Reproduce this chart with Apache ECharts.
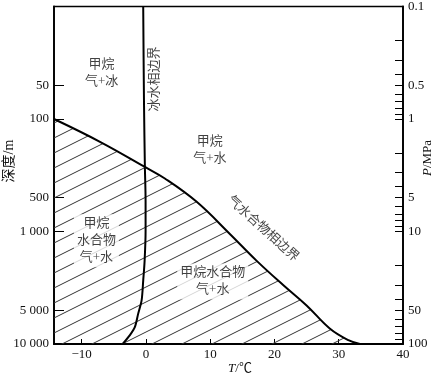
<!DOCTYPE html>
<html><head><meta charset="utf-8">
<script src="https://cdn.jsdelivr.net/npm/echarts@6/dist/echarts.min.js"></script>
<style>html,body{margin:0;padding:0;background:#fff}#c{width:439px;height:376px}</style>
</head><body><div id="c"></div>
<script>
// ---- data ----
const xTicks = [-10, 0, 10, 20, 30, 40];
const depthTicks = [50, 100, 500, 1000, 5000, 10000];
const pressureLabels = [0.1, 0.5, 1, 5, 10, 50, 100];
const pressureTicks = [0.1, 0.2, 0.3, 0.4, 0.5, 0.6, 0.7, 0.8, 0.9, 1, 2, 3, 4, 5, 6, 7, 8, 9, 10, 20, 30, 40, 50, 60, 70, 80, 90, 100];

// hydrate phase boundary (T in °C, depth in m)
const hydrateT = [-14.3, -7.0, -0.3, 2.95, 7.9, 13.1, 17.2, 21.35, 25.0, 28.6, 31.5, 33.3];
const hydrateDepth = [100, 161, 264, 338, 545, 1057, 1815, 2990, 4540, 7278, 9247, 10000];

// ice / water phase boundary
const iceT = [-0.42, -0.3, -0.16, -0.05, -0.05, -0.2, -0.42, -0.67, -1.2, -1.71, -2.49, -3.62];
const iceDepth = [10, 70, 264, 537, 989, 1815, 2729, 4098, 5370, 7047, 8337, 10000];

// annotations
const annoText = ['甲烷\n气+冰', '冰水相边界', '甲烷\n气+水', '气水合物相边界', '甲烷\n水合物\n气+水', '甲烷水合物\n气+水'];
const annoT = [-6.9, 1.4, 9.95, 18.2, -7.7, 10.4];
const annoDepth = [39, 44, 187, 948, 1211, 2786];
const annoRotate = [0, 90, 0, -42, 0, 0];
const annoBoxed = [false, false, false, false, true, true];

// ---- chart ----
const FONT = "'Liberation Serif','Noto Sans CJK SC',serif";
function hatch() {
  const c = document.createElement('canvas');
  c.width = 30; c.height = 15;
  const g = c.getContext('2d');
  g.strokeStyle = '#333'; g.lineWidth = 1;
  for (const dy of [-15, 0, 15]) {
    g.beginPath(); g.moveTo(0, 15 + dy); g.lineTo(30, dy); g.stroke();
  }
  return c;
}
const thousands = v => String(v).replace(/\B(?=(\d{3})+(?!\d))/g, ' ');
const chart = echarts.init(document.getElementById('c'), null, {renderer: 'canvas'});
chart.setOption({
  animation: false,
  backgroundColor: '#fff',
  grid: {left: 54, right: 36, top: 4, bottom: 32, show: true, borderColor: '#000', borderWidth: 1.5, backgroundColor: 'transparent'},
  xAxis: {
    type: 'value', min: -14.3, max: 40,
    axisLine: {show: true, onZero: false, lineStyle: {color: '#000', width: 1.8}},
    axisTick: {show: true, inside: true, length: 5, customValues: xTicks, lineStyle: {color: '#000'}},
    axisLabel: {customValues: xTicks, color: '#111', fontFamily: FONT, fontSize: 13, margin: 4,
      formatter: v => v < 0 ? '\u2212' + (-v) : String(v)},
    splitLine: {show: false}
  },
  yAxis: [{
    type: 'log', logBase: 10, min: 10, max: 10000, inverse: true, position: 'left',
    axisLine: {show: true, onZero: false, lineStyle: {color: '#000', width: 1.8}},
    axisTick: {show: true, inside: true, length: 10, customValues: depthTicks, lineStyle: {color: '#000'}},
    axisLabel: {customValues: depthTicks, color: '#111', fontFamily: FONT, fontSize: 13, margin: 5, formatter: thousands},
    splitLine: {show: false}, minorTick: {show: false}
  }, {
    type: 'log', logBase: 10, min: 0.1, max: 100, inverse: true, position: 'right',
    axisLine: {show: true, onZero: false, lineStyle: {color: '#000', width: 1.8}},
    axisTick: {show: true, inside: true, length: 8, customValues: pressureTicks, lineStyle: {color: '#000'}},
    axisLabel: {customValues: pressureLabels, color: '#111', fontFamily: FONT, fontSize: 13, margin: 5, formatter: v => String(v)},
    splitLine: {show: false}
  }],
  series: [{
    type: 'line', xAxisIndex: 0, yAxisIndex: 0, symbol: 'none', smooth: 0.4, z: 2,
    data: hydrateT.map((t, i) => [t, hydrateDepth[i]]),
    lineStyle: {color: '#000', width: 2},
    areaStyle: {origin: 'end', color: {image: hatch(), repeat: 'repeat'}, opacity: 1}
  }, {
    type: 'line', xAxisIndex: 0, yAxisIndex: 0, symbol: 'none', smooth: 0.3, z: 3,
    data: iceT.map((t, i) => [t, iceDepth[i]]),
    lineStyle: {color: '#000', width: 2}
  }, {
    type: 'scatter', xAxisIndex: 0, yAxisIndex: 0, symbolSize: 1, z: 5, silent: true,
    itemStyle: {color: 'rgba(0,0,0,0)'},
    data: annoText.map((s, i) => ({
      value: [annoT[i], annoDepth[i]],
      label: {
        show: true, position: 'inside', formatter: s, rotate: annoRotate[i],
        fontFamily: FONT, fontSize: 13, lineHeight: 17, color: '#111', align: 'center',
        backgroundColor: annoBoxed[i] ? '#fff' : 'transparent', padding: annoBoxed[i] ? [1, 3] : 0
      }
    }))
  }],
  graphic: [
    {type: 'text', x: 9, y: 161, rotation: Math.PI / 2, z: 10,
     style: {text: '深度/m', font: "14px " + FONT, fill: '#111', align: 'center', verticalAlign: 'middle'}},
    {type: 'text', x: 428, y: 158, rotation: Math.PI / 2, z: 10,
     style: {text: '{i|P}/MPa', font: "13px " + FONT, fill: '#111', align: 'center', verticalAlign: 'middle',
       rich: {i: {fontStyle: 'italic', fontFamily: FONT, fontSize: 13, fill: '#111'}}}},
    {type: 'text', x: 240, y: 369, z: 10,
     style: {text: '{i|T}/℃', font: "13px " + FONT, fill: '#111', align: 'center', verticalAlign: 'middle',
       rich: {i: {fontStyle: 'italic', fontFamily: FONT, fontSize: 13, fill: '#111'}}}}
  ]
});
</script></body></html>
